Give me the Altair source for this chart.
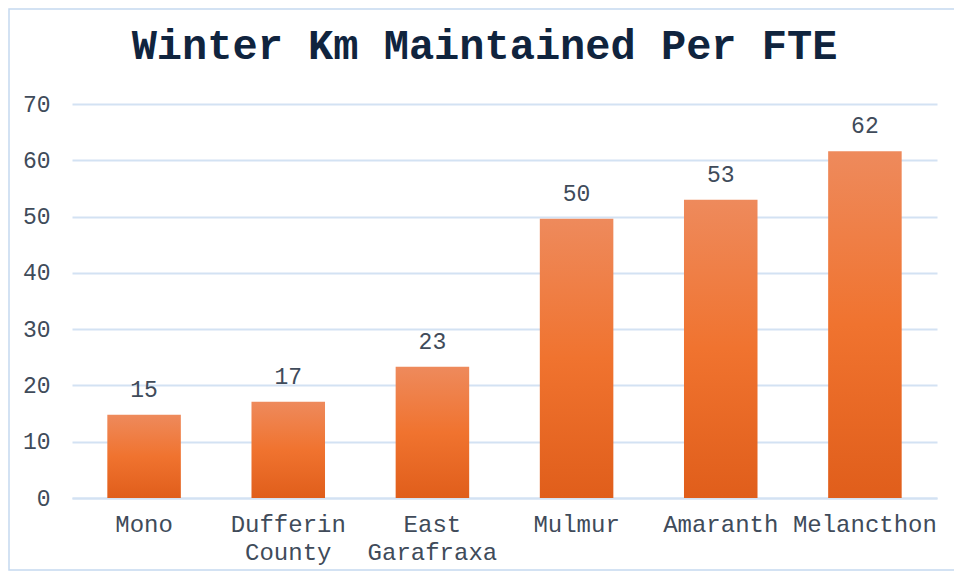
import altair as alt
import pandas as pd

categories = ["Mono", "Dufferin County", "East Garafraxa", "Mulmur", "Amaranth", "Melancthon"]
values = [14.8, 17.1, 23.3, 49.6, 53.0, 61.6]
y_ticks = [0, 10, 20, 30, 40, 50, 60, 70]

df = pd.DataFrame({"region": categories, "km": values})

FONT = "'Courier New', 'Nimbus Mono PS', 'Liberation Mono', monospace"
GRID = "#D3E2F3"
TEXT = "#404B5A"

x_enc = alt.X(
    "region:N",
    sort=categories,
    title=None,
    scale=alt.Scale(paddingInner=0.49, paddingOuter=0.245),
    axis=alt.Axis(
        labelAngle=0,
        ticks=False,
        domainColor=GRID,
        domainWidth=2,
        labelFont=FONT,
        labelFontSize=24,
        labelColor=TEXT,
        labelPadding=14,
        labelLineHeight=28,
        labelExpr="split(datum.label, ' ')",
        grid=False,
    ),
)
y_enc = alt.Y(
    "km:Q",
    title=None,
    scale=alt.Scale(domain=[0, 70], nice=False),
    axis=alt.Axis(
        values=y_ticks,
        domain=False,
        ticks=False,
        gridColor=GRID,
        gridWidth=2,
        labelFont=FONT,
        labelFontSize=23,
        labelColor=TEXT,
        labelPadding=22,
    ),
)

bars = alt.Chart(df).mark_bar(
    color=alt.Gradient(
        gradient="linear",
        stops=[
            alt.GradientStop(color="#EE8A5C", offset=0),
            alt.GradientStop(color="#F0732F", offset=0.5),
            alt.GradientStop(color="#E05E1B", offset=1),
        ],
        x1=0, x2=0, y1=0, y2=1,
    )
).encode(x=x_enc, y=y_enc)

labels = alt.Chart(df).mark_text(
    baseline="alphabetic", dy=-18, font=FONT, fontSize=23, color=TEXT
).encode(
    x=alt.X("region:N", sort=categories),
    y="km:Q",
    text=alt.Text("km:Q", format=".0f"),
)

border = alt.Chart(alt.Data(values=[{}])).mark_rect(
    fill=None, stroke="#C5D9F0", strokeWidth=1.5
).encode(
    x=alt.value(-63), x2=alt.value(890), y=alt.value(-95), y2=alt.value(466)
)

chart = alt.layer(border, bars, labels).properties(
    width=865,
    height=394,
    autosize=alt.AutoSizeParams(type="none"),
    padding={"left": 64, "top": 96, "right": 17, "bottom": 74},
    title=alt.TitleParams(
        "Winter Km Maintained Per FTE",
        font=FONT,
        fontSize=42,
        fontWeight="bold",
        color="#10243E",
        anchor="middle",
        baseline="bottom",
        offset=-102,
        dx=-20,
    ),
).configure_view(stroke=None)

chart.save("out.html", embed_options={"renderer": "svg", "actions": False})
